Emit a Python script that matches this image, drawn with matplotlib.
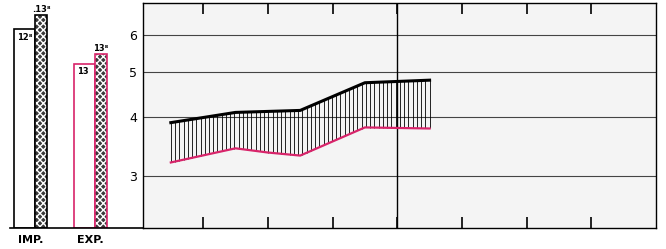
import numpy as np
import matplotlib.pyplot as plt

# bar panel (left)
groups = ["IMP.", "EXP."]
plain_vals = [12.8, 10.6]
hatch_vals = [13.7, 11.2]
plain_labels = ["12⁸", "13"]
hatch_labels = [".13⁸", "13⁸"]

# band chart (right)
upper_x = [0.5, 1.5, 2.5, 3.5, 4.5]
upper_y = [3.90, 4.10, 4.14, 4.74, 4.80]
lower_x = [0.5, 1.5, 2.0, 2.5, 3.5, 4.5]
lower_y = [3.21, 3.44, 3.37, 3.32, 3.81, 3.79]
yticks = [3, 4, 5, 6]

pink = "#d8246a"

fig = plt.figure(figsize=(6.66, 2.49), dpi=100)

# ---- left bars ----
axb = fig.add_axes([10/666, 21/249, 133/666, 225/249])
xg = np.arange(len(groups))
edge_cols = ["black", pink]
for i in xg:
    axb.bar(xg[i], plain_vals[i], width=0.35, align="edge",
            facecolor="white", edgecolor=edge_cols[i], linewidth=1.2)
    axb.bar(xg[i] + 0.35, hatch_vals[i], width=0.2, align="edge",
            facecolor="#3a3a3a", edgecolor="white", hatch="xxxxx", linewidth=0)
    axb.bar(xg[i] + 0.35, hatch_vals[i], width=0.2, align="edge",
            facecolor="none", edgecolor=edge_cols[i], linewidth=1.2)
    axb.text(xg[i] + 0.05, plain_vals[i] - 0.25, plain_labels[i],
             fontsize=6, fontweight="bold", va="top", ha="left")
    axb.text(xg[i] + 0.45, hatch_vals[i] + 0.1, hatch_labels[i],
             fontsize=6, fontweight="bold", va="bottom", ha="center")
axb.set_xlim(-0.067, 2.15)
axb.set_ylim(0, 14.5)
axb.set_xticks(xg + 0.27)
axb.set_xticklabels(groups, fontsize=8, fontweight="bold")
axb.tick_params(axis="x", length=0, pad=5)
axb.set_yticks([])
for s in ["left", "right", "top"]:
    axb.spines[s].set_visible(False)
axb.spines["bottom"].set_linewidth(1.2)

# ---- right band chart ----
ax = fig.add_axes([143/666, 21/249, 513/666, 225/249])
ax.set_facecolor("#f4f4f4")
ax.set_yscale("log")
ax.set_ylim(2.33, 7.0)
ax.set_xlim(0.07, 8.0)
for v in yticks:
    ax.axhline(v, color="#444444", linewidth=0.8)
ax.axvline(4, color="black", linewidth=1.0)

xs = np.linspace(upper_x[0], upper_x[-1], 62)
ax.vlines(xs, np.interp(xs, lower_x, lower_y), np.interp(xs, upper_x, upper_y),
          color="black", linewidth=0.6)
ax.plot(upper_x, upper_y, color="black", linewidth=2.2)
ax.plot(lower_x, lower_y, color=pink, linewidth=1.6)

ax.set_yticks(yticks)
ax.set_yticklabels([str(v) for v in yticks], fontsize=9)
ax.yaxis.set_minor_locator(plt.NullLocator())
ax.tick_params(axis="y", length=0, pad=4)
ax.set_xticks(range(1, 8))
ax.tick_params(axis="x", direction="in", length=8, width=1.2,
               top=True, bottom=True, labelbottom=False)
for s in ax.spines.values():
    s.set_linewidth(1.0)

fig.savefig("out.png", dpi=100)
